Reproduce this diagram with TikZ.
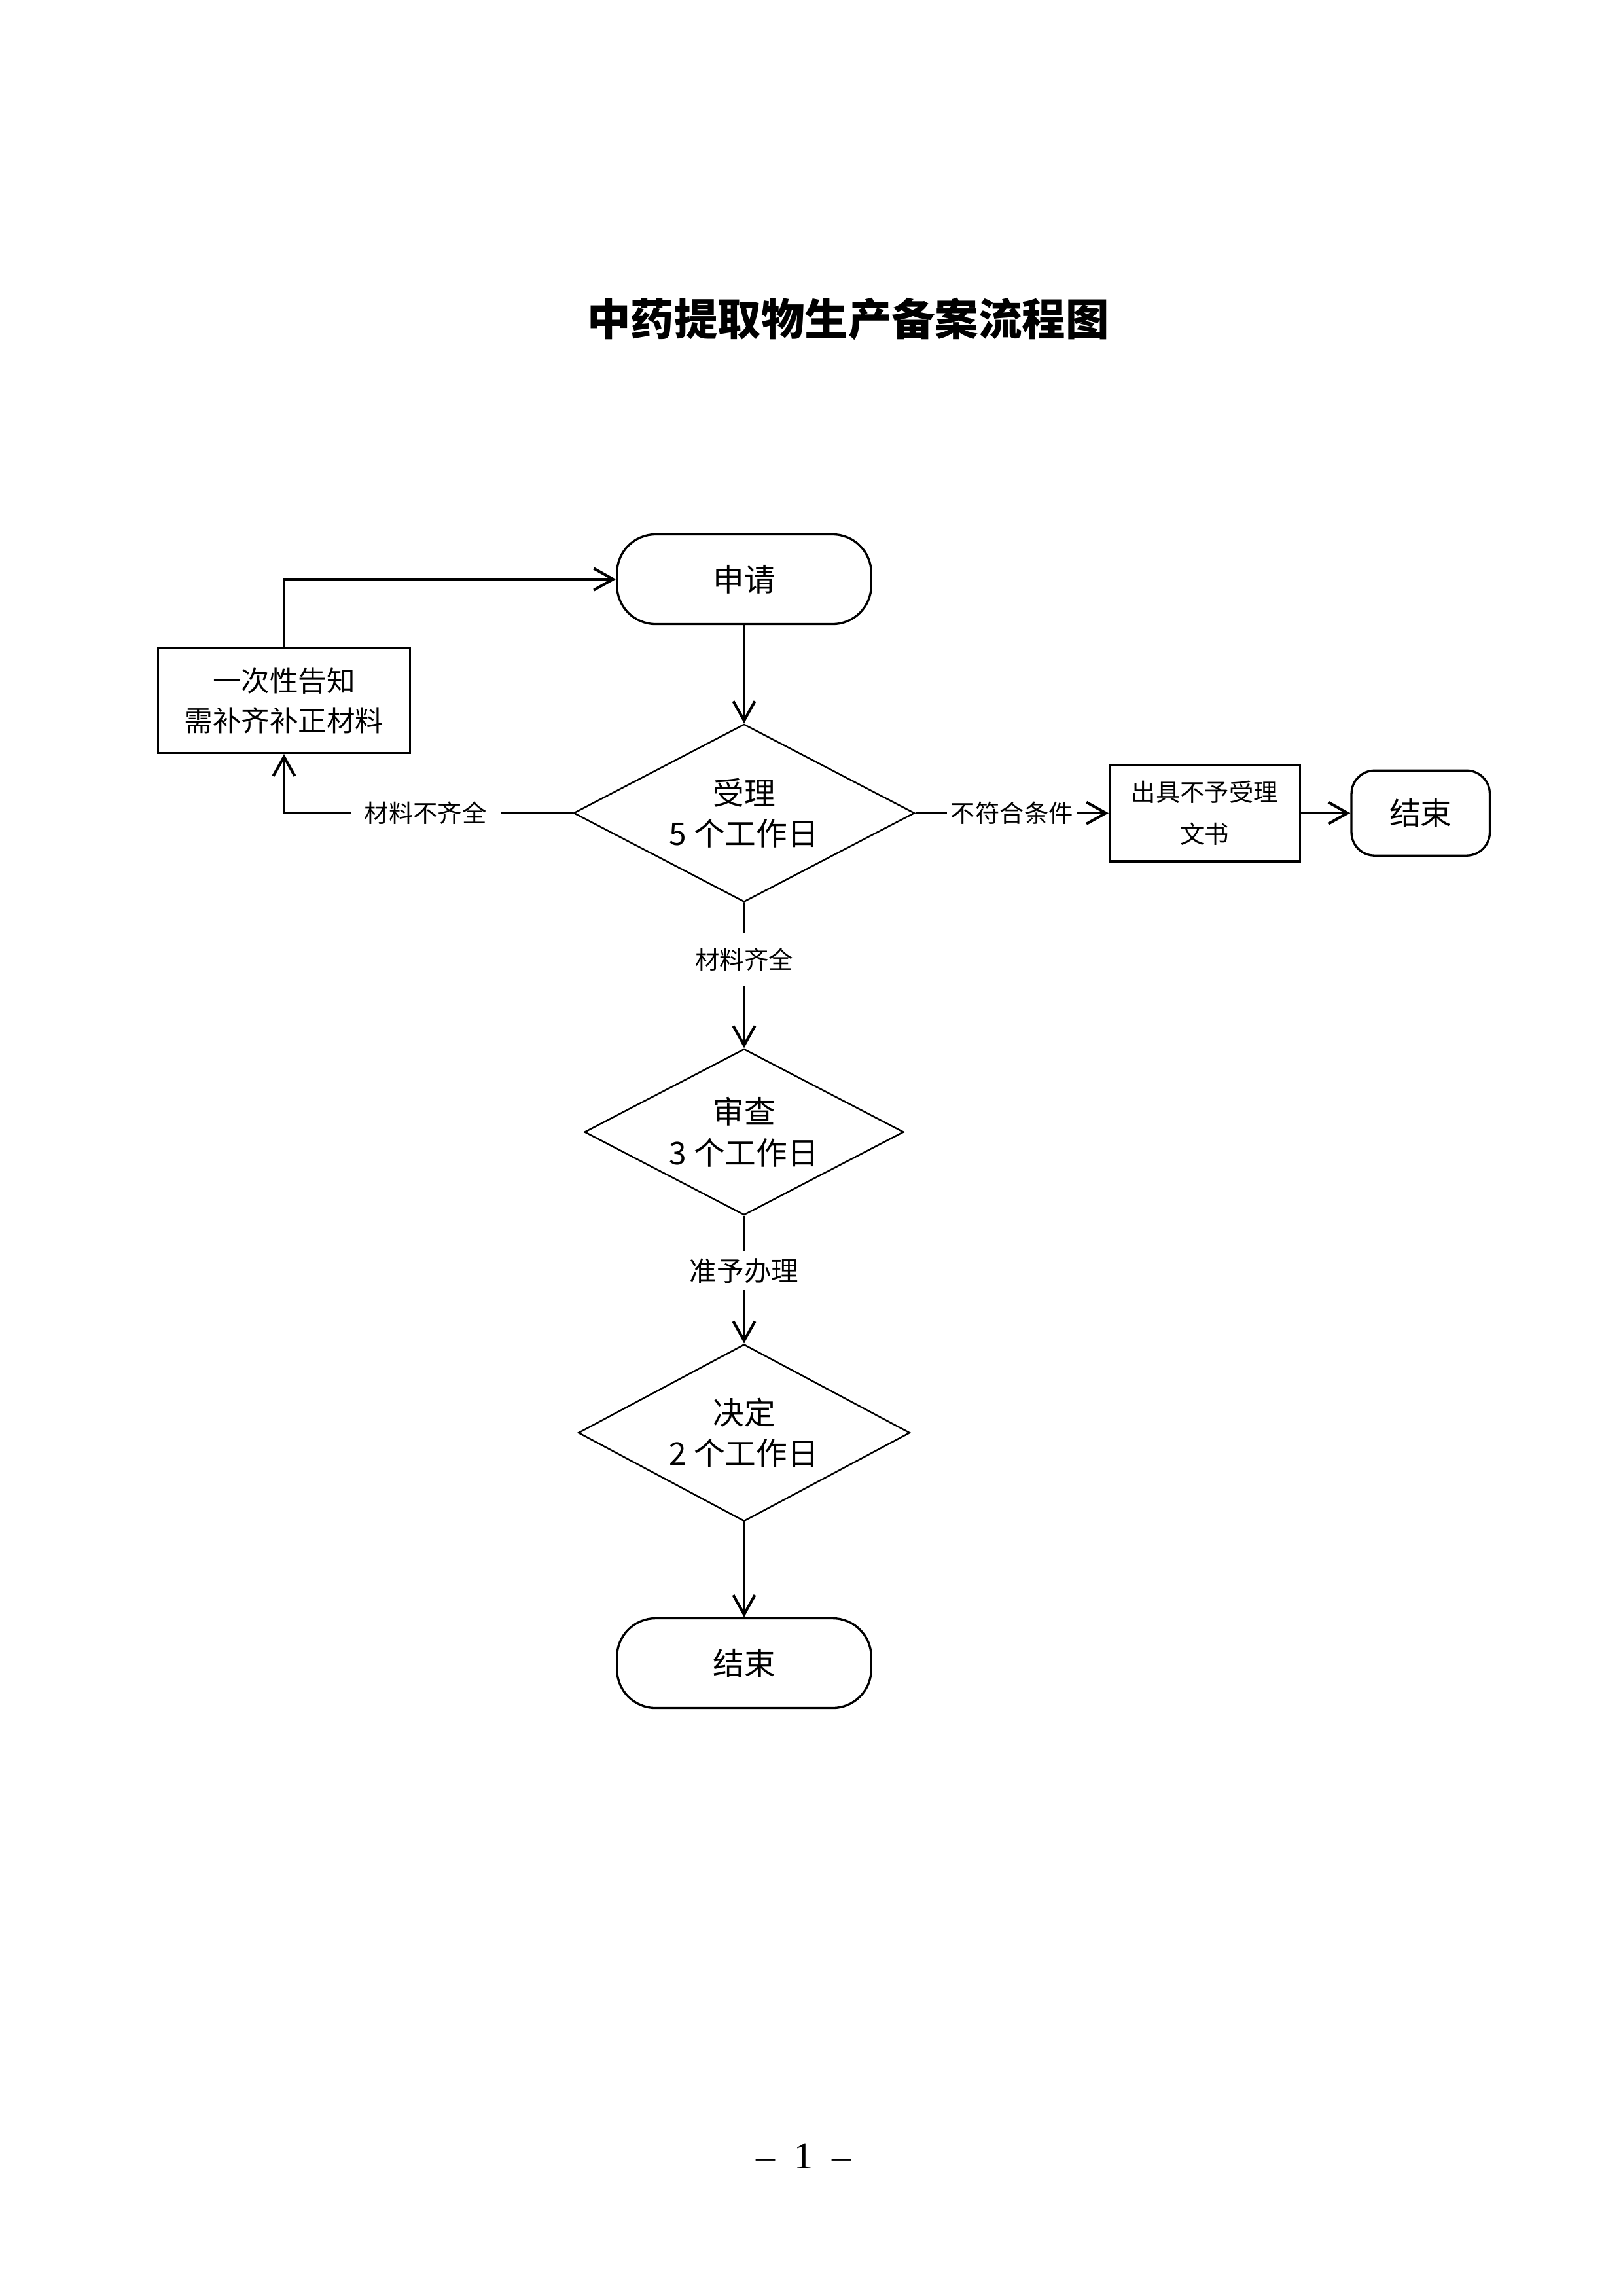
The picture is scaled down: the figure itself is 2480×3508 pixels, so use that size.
\documentclass[tikz,border=0pt]{standalone}
\usepackage{fontspec}
\setmainfont{Liberation Serif}
\newfontfamily\cjk{Noto Sans CJK SC}
\usetikzlibrary{shapes.geometric,positioning,arrows.meta}

\begin{document}
\begin{tikzpicture}[
    x=0.084667mm, y=-0.084667mm,
    terminal/.style={rectangle, draw, rounded corners=5mm, minimum width=32.9mm, minimum height=11.6mm, line width=0.8pt, font=\cjk\fontsize{11.5}{14}\selectfont},
    decision/.style={diamond, draw, aspect=2, inner sep=0pt, line width=0.6pt, align=center, font=\cjk\fontsize{11.5}{15}\selectfont},
    box/.style={rectangle, draw, line width=0.8pt, align=center},
    tag/.style={fill=white, inner xsep=1.8mm, inner ysep=2mm, font=\cjk\fontsize{9}{11}\selectfont},
    arrow/.style={->, line width=1pt, >={Straight Barb[length=2.5mm, width=2.8mm]}}
]
    \useasboundingbox (0,0) rectangle (2480,3508);
    \node[font=\cjk\bfseries\fontsize{16}{20}\selectfont] (title) at (1296,487) {中药提取物生产备案流程图};

    % main column
    \node[terminal] (apply) at (1137,885) {申请};
    \node[decision, minimum width=44.1mm, minimum height=23mm, below=12.7mm of apply] (accept) {受理\\5 个工作日};
    \node[decision, minimum width=41.3mm, minimum height=21.5mm, below=18.8mm of accept] (review) {审查\\3 个工作日};
    \node[decision, minimum width=42.9mm, minimum height=22.9mm, below=16.5mm of review] (decide) {决定\\2 个工作日};
    \node[terminal, below=12.3mm of decide] (finish) {结束};

    % side branches
    \node[box, minimum width=32.6mm, minimum height=13.6mm, font=\cjk\fontsize{10.5}{14.7}\selectfont] (notice) at (434,1070) {一次性告知\\需补齐补正材料};
    \node[box, minimum width=24.6mm, minimum height=12.5mm, font=\cjk\fontsize{9}{15.2}\selectfont, right=25mm of accept] (refuse) {出具不予受理\\文书};
    \node[terminal, rounded corners=3mm, minimum width=17.9mm, minimum height=11mm, right=6.4mm of refuse] (stop) {结束};

    \draw[arrow] (apply) -- (accept);
    \draw[arrow] (accept) -- node[tag, pos=0.39] {材料齐全} (review);
    \draw[arrow] (review) -- node[tag, pos=0.43, inner ysep=0.9mm, font=\cjk\fontsize{10}{12}\selectfont] {准予办理} (decide);
    \draw[arrow] (decide) -- (finish);

    \draw[arrow] (accept.west) -| node[tag, pos=0.255] {材料不齐全} (notice.south);
    \draw[arrow] (notice.north) |- (apply.west);
    \draw[arrow] (accept.east) -- node[tag, inner xsep=0.5mm] {不符合条件} (refuse);
    \draw[arrow] (refuse) -- (stop);

    \node[font=\fontsize{14}{16}\selectfont] (page) at (1228,3294) {–\enspace 1\enspace –};
\end{tikzpicture}
\end{document}
